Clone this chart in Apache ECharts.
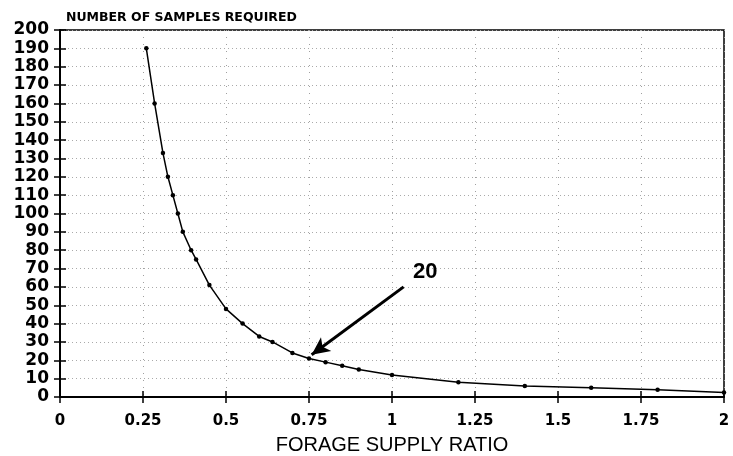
<!DOCTYPE html>
<html>
<head>
<meta charset="utf-8">
<script src="https://cdn.jsdelivr.net/npm/echarts@6/dist/echarts.min.js"></script>
<style>
html,body{margin:0;padding:0;background:#fff;}
#chart{width:733px;height:456px;}
</style>
</head>
<body>
<div id="chart"></div>
<script>
// Data
var supplyRatio = [0.26, 0.285, 0.31, 0.325, 0.34, 0.355, 0.37, 0.395, 0.41, 0.45, 0.5, 0.55, 0.6, 0.64, 0.7, 0.75, 0.8, 0.85, 0.9, 1.0, 1.2, 1.4, 1.6, 1.8, 2.0];
var samplesRequired = [190, 160, 133, 120, 110, 100, 90, 80, 75, 61, 48, 40, 33, 30, 24, 21, 19, 17, 15, 12, 8, 6, 5, 4, 2.5];
var xTickLabels = ['0', '0.25', '0.5', '0.75', '1', '1.25', '1.5', '1.75', '2'];
var yTickLabels = ['0','10','20','30','40','50','60','70','80','90','100','110','120','130','140','150','160','170','180','190','200'];
var annotationText = '20';
var arrowFrom = [1.035, 60];
var arrowTo = [0.758, 23];
var annotationAt = [1.1, 68];

var chart = echarts.init(document.getElementById('chart'), null, {renderer: 'canvas'});
var seriesData = supplyRatio.map(function (x, i) { return [x, samplesRequired[i]]; });

var labelFont = 'DejaVu Sans';
var option = {
  animation: false,
  backgroundColor: '#ffffff',
  title: {
    text: 'NUMBER OF SAMPLES REQUIRED',
    left: 61,
    top: 6,
    textStyle: {fontFamily: labelFont, fontWeight: 'bold', fontSize: 12.5, color: '#000'}
  },
  grid: {
    left: 60, right: 9, top: 30, bottom: 59,
    containLabel: false,
    outerBoundsMode: 'none',
    show: true,
    borderColor: '#000',
    borderWidth: 1.5,
    backgroundColor: 'transparent'
  },
  xAxis: [{
    type: 'value', min: 0, max: 2, interval: 0.25,
    name: 'FORAGE SUPPLY RATIO', nameLocation: 'middle', nameGap: 38,
    nameTextStyle: {fontFamily: 'Liberation Sans', fontSize: 20, color: '#000'},
    axisLine: {show: true, lineStyle: {color: '#000', width: 2}},
    axisTick: {show: true, inside: false, length: 6, lineStyle: {color: '#000', width: 1.5}},
    axisLabel: {
      margin: 17, fontFamily: labelFont, fontWeight: 'bold', fontSize: 15, color: '#000',
      formatter: function (v, i) { return xTickLabels[i]; }
    },
    splitLine: {show: true, lineStyle: {color: '#a0a0a0', width: 1, type: [1, 6]}}
  }, {
    type: 'value', min: 0, max: 2, interval: 0.25, position: 'bottom', offset: 0,
    axisLine: {show: false},
    axisTick: {show: true, inside: true, length: 6, lineStyle: {color: '#000', width: 1.5}},
    axisLabel: {show: false},
    splitLine: {show: false}
  }],
  yAxis: [{
    type: 'value', min: 0, max: 200, interval: 10,
    axisLine: {show: true, lineStyle: {color: '#000', width: 2}},
    axisTick: {show: true, inside: false, length: 6, lineStyle: {color: '#000', width: 1.5}},
    axisLabel: {
      margin: 11, fontFamily: labelFont, fontWeight: 'bold', fontSize: 17, color: '#000',
      formatter: function (v, i) { return yTickLabels[i]; }
    },
    splitLine: {show: true, lineStyle: {color: '#aaaaaa', width: 1, type: [1, 3]}}
  }, {
    type: 'value', min: 0, max: 200, interval: 10, position: 'left', offset: 0,
    axisLine: {show: false},
    axisTick: {show: true, inside: true, length: 6, lineStyle: {color: '#000', width: 1.5}},
    axisLabel: {show: false},
    splitLine: {show: false}
  }],
  series: [{
    type: 'line',
    xAxisIndex: 0, yAxisIndex: 0,
    data: seriesData,
    showSymbol: true,
    symbol: 'circle',
    symbolSize: 4.5,
    itemStyle: {color: '#000'},
    lineStyle: {color: '#000', width: 1.5},
    smooth: false,
    z: 5,
    markLine: {
      silent: true,
      animation: false,
      symbolSize: [13, 18],
      lineStyle: {color: '#000', width: 3, type: 'solid'},
      label: {show: false},
      data: [[
        {coord: arrowFrom, symbol: 'none'},
        {coord: arrowTo, symbol: 'arrow'}
      ]]
    },
    markPoint: {
      silent: true,
      animation: false,
      symbol: 'circle',
      symbolSize: 1,
      itemStyle: {color: 'rgba(0,0,0,0)'},
      label: {
        show: true, position: 'inside',
        fontFamily: 'Liberation Sans', fontWeight: 'bold', fontSize: 22, color: '#000',
        formatter: function () { return annotationText; }
      },
      data: [{coord: annotationAt}]
    }
  }]
};
chart.setOption(option);
</script>
</body>
</html>
